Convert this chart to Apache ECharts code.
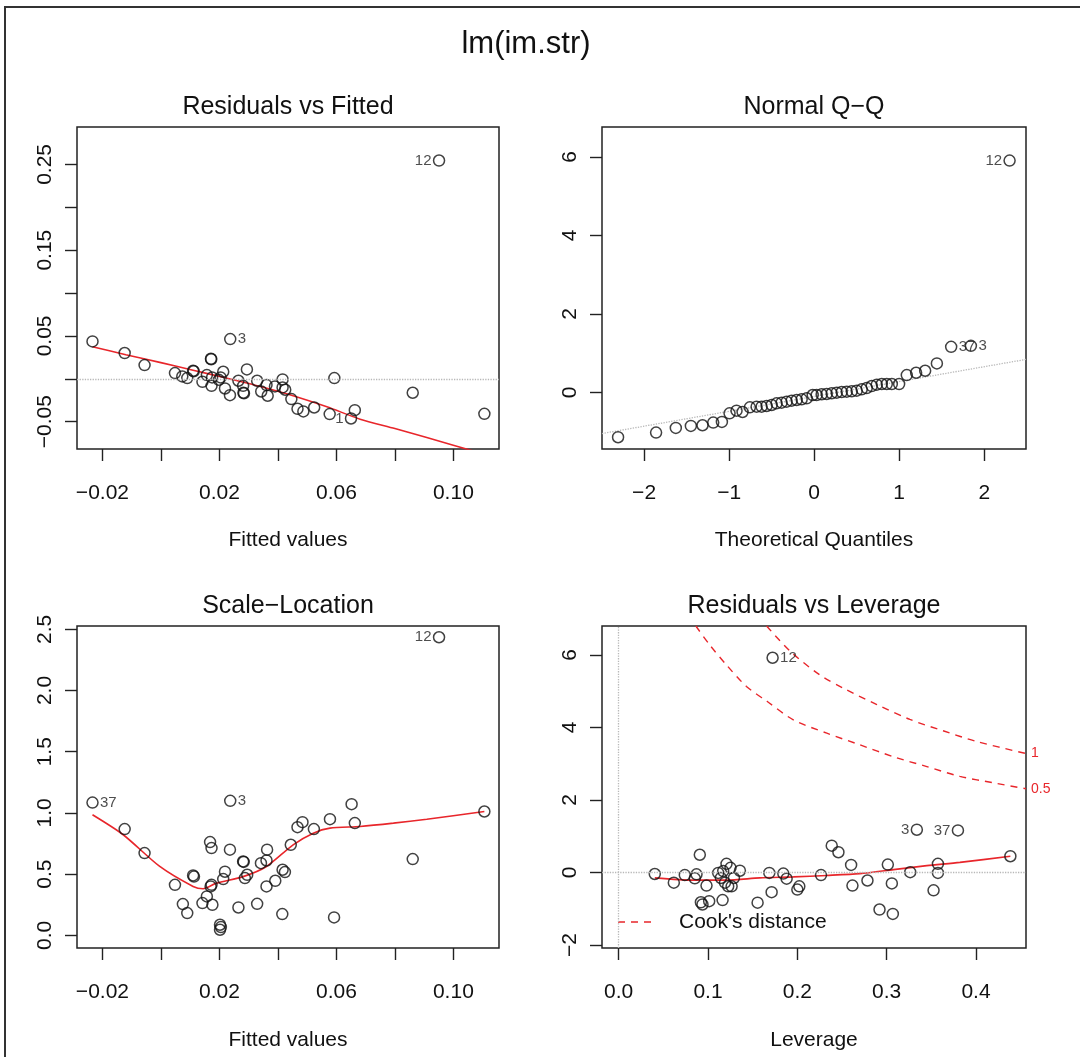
<!DOCTYPE html>
<html>
<head>
<meta charset="utf-8">
<script src="https://cdn.jsdelivr.net/npm/echarts@6/dist/echarts.min.js"></script>
<style>
html,body{margin:0;padding:0;background:#fff;}
#chart{width:1080px;height:1057px;}
</style>
</head>
<body>
<div id="chart"></div>
<script>
// ---------------- DATA ----------------
const mainTitle = 'lm(im.str)';
const panelTitles = ['Residuals vs Fitted', 'Normal Q\u2212Q', 'Scale\u2212Location', 'Residuals vs Leverage'];
const xAxisTitles = ['Fitted values', 'Theoretical Quantiles', 'Fitted values', 'Leverage'];

// Panel 1: Residuals vs Fitted  [fitted, residual]
const rvfPoints = [
  [-0.0234,0.0436],[-0.0124,0.0300],[-0.0056,0.0160],[0.0048,0.0066],[0.0073,0.0027],
  [0.0090,0.0008],[0.0110,0.0093],[0.0112,0.0088],[0.0142,-0.0035],[0.0157,0.0043],
  [0.0171,0.0233],[0.0172,0.0228],[0.0173,-0.0082],[0.0175,0.0016],[0.0198,-0.0012],
  [0.0204,0.0016],[0.0213,0.0082],[0.0219,-0.0113],[0.0236,-0.0191],[0.0237,0.0463],
  [0.0265,-0.0023],[0.0281,-0.0082],[0.0282,-0.0163],[0.0284,-0.0170],[0.0294,0.0109],
  [0.0329,-0.0023],[0.0343,-0.0148],[0.0361,-0.0074],[0.0365,-0.0198],[0.0390,-0.0089],
  [0.0416,-0.0008],[0.0416,-0.0101],[0.0425,-0.0128],[0.0446,-0.0237],[0.0467,-0.0350],
  [0.0487,-0.0381],[0.0524,-0.0335],[0.0577,-0.0412],[0.0593,0.0008],[0.0650,-0.0463],
  [0.0663,-0.0366],[0.0861,-0.0163],[0.0951,0.2545],[0.1106,-0.0409]
];
const rvfSmooth = [
  [-0.0234,0.0374],[-0.0120,0.0280],[-0.0004,0.0191],[0.0110,0.0100],[0.0224,0.0008],
  [0.0340,-0.0090],[0.0452,-0.0198],[0.0570,-0.0330],[0.0681,-0.0471],[0.0800,-0.0580],
  [0.0909,-0.0685],[0.1106,-0.0880]
];
const rvfIds = [['12',0.0951,0.2545,'left'],['3',0.0237,0.0463,'right'],['1',0.0650,-0.0463,'left']];
const rvfXTicks = [-0.02,0,0.02,0.04,0.06,0.08,0.10];
const rvfXLabels = ['\u22120.02','0.02','0.06','0.10'];
const rvfYTicks = [-0.05,0,0.05,0.10,0.15,0.20,0.25];
const rvfYLabels = ['\u22120.05','0.05','0.15','0.25'];

// Panel 2: Normal Q-Q  [theoretical quantile, std. residual]
const qqPoints = [
  [-2.306,-1.144],[-1.859,-1.025],[-1.627,-0.907],[-1.450,-0.856],[-1.313,-0.839],
  [-1.187,-0.771],[-1.085,-0.754],[-0.995,-0.534],[-0.913,-0.466],[-0.842,-0.500],
  [-0.756,-0.381],[-0.677,-0.364],[-0.618,-0.364],[-0.559,-0.347],[-0.500,-0.322],
  [-0.442,-0.280],[-0.383,-0.263],[-0.324,-0.237],[-0.265,-0.212],[-0.206,-0.195],
  [-0.147,-0.178],[-0.088,-0.153],[-0.017,-0.068],[0.029,-0.068],[0.088,-0.051],
  [0.147,-0.042],[0.206,-0.025],[0.265,-0.008],[0.324,0.008],[0.383,0.017],
  [0.442,0.025],[0.500,0.042],[0.559,0.076],[0.618,0.110],[0.677,0.161],
  [0.736,0.195],[0.795,0.212],[0.854,0.212],[0.913,0.212],[0.999,0.212],
  [1.089,0.441],[1.199,0.500],[1.305,0.551],[1.443,0.737],[1.611,1.161],
  [1.843,1.186],[2.298,5.907]
];
const qqLine = [[-2.495,-1.05],[2.491,0.84]];
const qqIds = [['12',2.298,5.907,'left'],['37',1.611,1.161,'right'],['3',1.843,1.186,'right']];
const qqXTicks = [-2,-1,0,1,2];
const qqXLabels = ['\u22122','\u22121','0','1','2'];
const qqYTicks = [0,2,4,6];
const qqYLabels = ['0','2','4','6'];

// Panel 3: Scale-Location  [fitted, sqrt(|std. residual|)]
const slPoints = [
  [-0.0234,1.085],[-0.0124,0.868],[-0.0056,0.672],[0.0048,0.413],[0.0075,0.256],
  [0.0090,0.182],[0.0110,0.490],[0.0113,0.480],[0.0142,0.264],[0.0157,0.318],
  [0.0168,0.762],[0.0173,0.713],[0.0173,0.413],[0.0176,0.250],[0.0170,0.400],
  [0.0202,0.087],[0.0202,0.046],[0.0205,0.068],[0.0213,0.460],[0.0219,0.520],
  [0.0236,0.700],[0.0237,1.099],[0.0265,0.228],[0.0281,0.604],[0.0283,0.600],
  [0.0287,0.468],[0.0295,0.495],[0.0329,0.258],[0.0342,0.590],[0.0361,0.612],
  [0.0363,0.700],[0.0361,0.400],[0.0391,0.446],[0.0415,0.174],[0.0416,0.536],
  [0.0424,0.517],[0.0444,0.740],[0.0467,0.884],[0.0484,0.925],[0.0523,0.868],
  [0.0578,0.949],[0.0592,0.147],[0.0652,1.072],[0.0663,0.917],[0.0861,0.623],
  [0.0951,2.435],[0.1106,1.012]
];
const slSmooth = [
  [-0.0234,0.985],[-0.0129,0.822],[-0.0004,0.563],[0.0110,0.400],[0.0144,0.381],
  [0.0190,0.427],[0.0281,0.480],[0.0361,0.563],[0.0452,0.740],[0.0521,0.835],
  [0.0578,0.876],[0.0681,0.890],[0.0795,0.917],[0.0909,0.949],[0.1106,1.012]
];
const slIds = [['12',0.0951,2.435,'left'],['37',-0.0234,1.085,'right'],['3',0.0237,1.099,'right']];
const slXTicks = rvfXTicks;
const slXLabels = rvfXLabels;
const slYTicks = [0,0.5,1.0,1.5,2.0,2.5];
const slYLabels = ['0.0','0.5','1.0','1.5','2.0','2.5'];

// Panel 4: Residuals vs Leverage  [leverage, std. residual]
const rvlPoints = [
  [0.0404,-0.04],[0.0617,-0.28],[0.0740,-0.07],[0.0852,-0.16],[0.0871,-0.05],
  [0.0908,0.49],[0.0938,-0.88],[0.0920,-0.82],[0.0983,-0.36],[0.1013,-0.79],
  [0.1114,-0.01],[0.1144,-0.15],[0.1170,0.04],[0.1190,-0.28],[0.1207,0.24],
  [0.1226,-0.38],[0.1252,0.13],[0.1264,-0.38],[0.1290,-0.15],[0.1357,0.05],
  [0.1163,-0.76],[0.1555,-0.83],[0.1686,-0.01],[0.1712,-0.54],[0.1843,-0.03],
  [0.1880,-0.17],[0.2000,-0.47],[0.2022,-0.38],[0.2265,-0.07],[0.2385,0.74],
  [0.2460,0.56],[0.2602,0.21],[0.2617,-0.36],[0.2785,-0.22],[0.2920,-1.02],
  [0.3013,0.22],[0.3058,-0.30],[0.3069,-1.14],[0.3264,0.01],[0.3338,1.18],
  [0.3525,-0.49],[0.3574,0.24],[0.3574,-0.01],[0.3798,1.16],[0.4385,0.45],
  [0.1723,5.92]
];
const rvlSmooth = [
  [0.0404,-0.147],[0.0834,-0.210],[0.1210,-0.210],[0.1580,-0.147],[0.1955,-0.120],
  [0.2330,-0.080],[0.2700,-0.030],[0.3077,0.080],[0.3450,0.190],[0.3820,0.280],[0.4385,0.450]
];
const cook1 = [
  [0.1656,6.795],[0.1920,6.10],[0.2250,5.45],[0.2516,5.08],[0.2890,4.63],[0.3260,4.22],
  [0.3640,3.90],[0.4010,3.61],[0.4560,3.28]
];
const cook05 = [
  [0.0864,6.795],[0.1020,6.27],[0.1207,5.72],[0.1430,5.13],[0.1660,4.72],[0.1955,4.21],
  [0.2330,3.84],[0.2700,3.52],[0.3077,3.19],[0.3450,2.92],[0.3820,2.65],[0.4200,2.47],[0.4560,2.31]
];
const cookLevels = ['1','0.5'];
const rvlIds = [['12',0.1723,5.92,'right'],['3',0.3338,1.18,'left'],['37',0.3798,1.16,'left']];
const rvlXTicks = [0,0.1,0.2,0.3,0.4];
const rvlXLabels = ['0.0','0.1','0.2','0.3','0.4'];
const rvlYTicks = [-2,0,2,4,6];
const rvlYLabels = ['\u22122','0','2','4','6'];
const legendText = "Cook's distance";

// ---------------- LAYOUT / STYLE ----------------
const FONT = '"Liberation Sans", Arial, Helvetica, sans-serif';
const RED = '#e8262b';
const INK = '#111';
const grids = [
  {left:77, top:127, width:422, height:322},
  {left:602, top:127, width:424, height:322},
  {left:77, top:626, width:422, height:322},
  {left:602, top:626, width:424, height:322}
];
const ranges = [
  {x:[-0.0287,0.1156], y:[-0.0819,0.2936]},
  {x:[-2.495,2.491],   y:[-1.444,6.764]},
  {x:[-0.0287,0.1156], y:[-0.103,2.527]},
  {x:[-0.0187,0.456],  y:[-2.08,6.795]}
];
const xT = [[rvfXTicks,rvfXLabels],[qqXTicks,qqXLabels],[slXTicks,slXLabels],[rvlXTicks,rvlXLabels]];
const yT = [[rvfYTicks,rvfYLabels],[qqYTicks,qqYLabels],[slYTicks,slYLabels],[rvlYTicks,rvlYLabels]];

const num = s => parseFloat(s.replace('\u2212','-'));
function labelFormatter(labels){
  const vals = labels.map(num);
  return v => { const i = vals.findIndex(t => Math.abs(t - v) < 1e-9); return i >= 0 ? labels[i] : ''; };
}
function axis(i, dim){
  const r = ranges[i][dim];
  const [ticks, labels] = (dim === 'x' ? xT : yT)[i];
  const a = {
    type:'value', gridIndex:i, min:r[0], max:r[1], scale:true,
    axisLine:{show:false, onZero:false},
    splitLine:{show:false},
    axisTick:{show:true, inside:false, length:12, customValues:ticks, lineStyle:{color:'#222', width:1.4}},
    axisLabel:{show:true, customValues:labels.map(num), formatter:labelFormatter(labels),
      fontFamily:FONT, fontSize:21, color:'#111', margin: dim === 'x' ? 34 : 21},
  };
  if (dim === 'y') { a.axisLabel.rotate = 90; }
  return a;
}
const circleStyle = {color:'rgba(0,0,0,0)', borderColor:INK, borderWidth:1.5};
function scatter(i, data){
  return {type:'scatter', xAxisIndex:i, yAxisIndex:i, data:data, symbol:'circle', symbolSize:11,
    itemStyle:circleStyle, z:4, silent:true};
}
function idSeries(i, ids){
  return {type:'scatter', xAxisIndex:i, yAxisIndex:i, symbol:'circle', symbolSize:11, z:5, silent:true,
    itemStyle:{color:'rgba(0,0,0,0)', borderWidth:0},
    data: ids.map(d => ({value:[d[1], d[2]], label:{show:true, position:d[3], formatter:d[0], distance:2,
      fontFamily:FONT, fontSize:15, color:'#222'}}))};
}
function smoothLine(i, data){
  return {type:'line', xAxisIndex:i, yAxisIndex:i, data:data, smooth:0.25, showSymbol:false, symbol:'none',
    lineStyle:{color:RED, width:1.6}, z:3, silent:true, clip:true};
}
const refLine = {type:'dotted', color:'#b8b8b8', width:1.3};

const series = [
  // panel 1
  Object.assign(scatter(0, rvfPoints), {markLine:{silent:true, symbol:'none', label:{show:false},
    lineStyle:refLine, data:[{yAxis:0}]}}),
  smoothLine(0, rvfSmooth),
  idSeries(0, rvfIds),
  // panel 2
  {type:'line', xAxisIndex:1, yAxisIndex:1, data:qqLine, showSymbol:false, symbol:'none',
    lineStyle:refLine, z:2, silent:true},
  scatter(1, qqPoints),
  idSeries(1, qqIds),
  // panel 3
  scatter(2, slPoints),
  smoothLine(2, slSmooth),
  idSeries(2, slIds),
  // panel 4
  Object.assign(scatter(3, rvlPoints), {markLine:{silent:true, symbol:'none', label:{show:false},
    lineStyle:refLine, data:[{yAxis:0},{xAxis:0}]}}),
  smoothLine(3, rvlSmooth),
  idSeries(3, rvlIds),
  ...[cook1, cook05].map((c, k) => ({type:'line', xAxisIndex:3, yAxisIndex:3, data:c, smooth:0.3,
    showSymbol:false, symbol:'none', clip:true, silent:true, z:2,
    lineStyle:{color:RED, width:1.4, type:[7,6]},
    endLabel:{show:true, formatter:cookLevels[k], distance:5, fontFamily:FONT, fontSize:14, color:RED}}))
];

const textEl = (t, x, y, size, align) => ({type:'text', x:x, y:y, silent:true,
  style:{text:t, font: size + 'px ' + FONT, fill:'#111', textAlign:align || 'center', textVerticalAlign:'middle'}});

const graphic = [
  {type:'polyline', shape:{points:[[5,1057],[5,7],[1080,7]]}, style:{stroke:'#333', lineWidth:2, fill:null}, silent:true},
  textEl(mainTitle, 526, 44, 31),
  textEl(panelTitles[0], 288, 107, 25),
  textEl(panelTitles[1], 814, 107, 25),
  textEl(panelTitles[2], 288, 606, 25),
  textEl(panelTitles[3], 814, 606, 25),
  textEl(xAxisTitles[0], 288, 540, 21),
  textEl(xAxisTitles[1], 814, 540, 21),
  textEl(xAxisTitles[2], 288, 1040, 21),
  textEl(xAxisTitles[3], 814, 1040, 21),
  {type:'line', shape:{x1:618, y1:922, x2:654, y2:922}, style:{stroke:RED, lineWidth:1.4, lineDash:[7,6]}, silent:true},
  textEl(legendText, 679, 922, 21, 'left')
];

const chart = echarts.init(document.getElementById('chart'), null, {renderer:'canvas'});
chart.setOption({
  animation:false,
  backgroundColor:'#fff',
  grid: grids.map(g => Object.assign({show:true, borderColor:'#222', borderWidth:1.5, backgroundColor:'transparent', containLabel:false}, g)),
  xAxis: [0,1,2,3].map(i => axis(i,'x')),
  yAxis: [0,1,2,3].map(i => axis(i,'y')),
  series: series,
  graphic: graphic
});
</script>
</body>
</html>
